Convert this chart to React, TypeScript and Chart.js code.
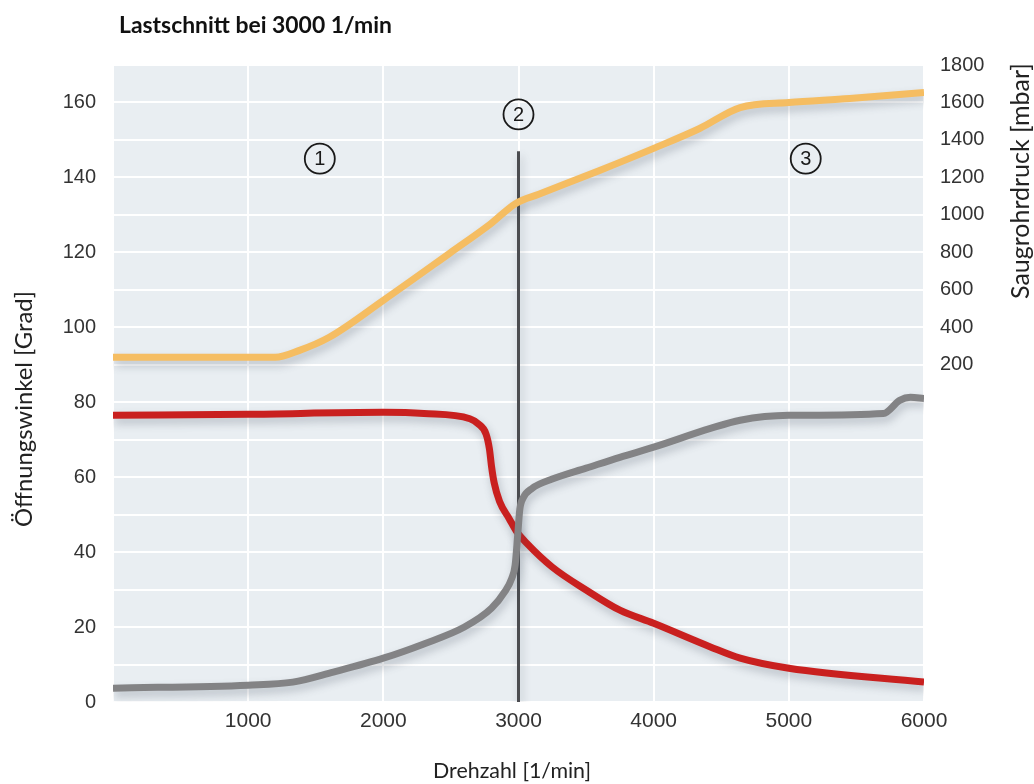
import React, { useEffect, useRef } from 'react';
import { Chart, registerables } from 'chart.js';

Chart.register(...registerables);

// ---- text ----
const TITLE = 'Lastschnitt bei 3000 1/min';
const X_TITLE = 'Drehzahl [1/min]';
const Y_LEFT_TITLE = 'Öffnungswinkel [Grad]';
const Y_RIGHT_TITLE = 'Saugrohrdruck [mbar]';

// ---- axes ----
const X_MIN = 0;
const X_MAX = 6000;
const X_STEP = 1000;
const Y_LEFT_MIN = 0;
const Y_LEFT_MAX = 170;
const Y_LEFT_GRID_STEP = 10;
const Y_LEFT_LABEL_STEP = 20;
const Y_RIGHT_MIN = -1600;
const Y_RIGHT_MAX = 1800;
const Y_RIGHT_STEP = 200;
const Y_RIGHT_FIRST_LABEL = 200;

// ---- series: Saugrohrdruck (orange, right axis, mbar) ----
const pressureRpm = [0, 1200, 1380, 1600, 2000, 2490, 2790, 2980, 3150, 3600, 4000, 4340, 4640, 5000, 5450, 6000];
const pressureMbar = [240, 240, 277, 347, 544, 795, 950, 1061, 1110, 1237, 1355, 1461, 1573, 1600, 1621, 1653];

// ---- series: red opening angle (left axis, Grad) ----
const redRpm = [0, 1000, 2000, 2300, 2640, 2700, 2760, 2785, 2800, 2820, 2860, 2930, 2990, 3060, 3250, 3500, 3750, 4000, 4420, 4640, 5000, 6000];
const redDeg = [76.5, 76.8, 77.3, 77, 75.6, 74.3, 71.5, 67.5, 63, 58.5, 53.5, 49, 45.3, 42.4, 36, 29.9, 24.5, 21, 14.7, 11.7, 9, 5.3];

// ---- series: grey opening angle (left axis, Grad) ----
const greyRpm = [0, 1000, 1330, 1630, 2000, 2300, 2600, 2800, 2900, 2950, 2975, 2995, 3010, 3035, 3100, 3250, 3500, 3750, 4000, 4420, 4640, 5000, 5700, 5820, 5900, 6000];
const greyDeg = [3.7, 4.5, 5.3, 8, 11.7, 15.5, 20, 25, 29.5, 33, 36.5, 45, 51.5, 54.5, 57, 59.5, 62.4, 65.3, 68, 73, 75.2, 76.5, 77, 80.5, 81.3, 81];

// ---- load cut marker at 3000 1/min ----
const cutRpm = [3000, 3000];
const cutDeg = [0, 147];

// ---- region markers ----
const markerLabels = ['1', '2', '3'];
const markerRpm = [1530, 3000, 5125];
const markerDeg = [145, 156.8, 145];

const toPoints = (xs: number[], ys: number[]) => xs.map((x, i) => ({ x, y: ys[i] }));

const TICK_FONT = { family: '"Liberation Sans", Arial, sans-serif', size: 20 };
const X_TICK_FONT = { family: '"Liberation Sans", Arial, sans-serif', size: 21 };
const TICK_COLOR = '#333333';
const LABEL_FONT = 'Lato, "Open Sans", sans-serif';

const drawFitted = (ctx: CanvasRenderingContext2D, text: string, weight: string, family: string, target: number, x: number, y: number) => {
  ctx.font = `${weight} 20px ${family}`;
  const w = ctx.measureText(text).width;
  const size = (20 * target) / w;
  ctx.font = `${weight} ${size.toFixed(2)}px ${family}`;
  ctx.fillText(text, x, y);
};

const decorPlugin = {
  id: 'decor',
  beforeDraw(chart: any) {
    const { ctx, chartArea } = chart;
    ctx.save();
    ctx.fillStyle = '#ffffff';
    ctx.fillRect(0, 0, chart.width, chart.height);
    ctx.fillStyle = '#e9eef2';
    ctx.fillRect(chartArea.left, chartArea.top, chartArea.right - chartArea.left, chartArea.bottom - chartArea.top);
    ctx.restore();
  },
  beforeDatasetsDraw(chart: any) {
    const { ctx } = chart;
    ctx.save();
    ctx.shadowColor = 'rgba(70, 80, 95, 0.3)';
    ctx.shadowBlur = 8;
    ctx.shadowOffsetX = 2;
    ctx.shadowOffsetY = 5;
  },
  afterDatasetsDraw(chart: any) {
    const { ctx, scales } = chart;
    ctx.restore();
    // region markers
    ctx.save();
    for (let i = 0; i < markerLabels.length; i++) {
      const px = scales.x.getPixelForValue(markerRpm[i]);
      const py = scales.y.getPixelForValue(markerDeg[i]);
      ctx.beginPath();
      ctx.arc(px, py, 15, 0, Math.PI * 2);
      ctx.lineWidth = 1.8;
      ctx.strokeStyle = '#1a1a1a';
      ctx.stroke();
      ctx.fillStyle = '#1a1a1a';
      ctx.font = '20px "Liberation Sans", Arial, sans-serif';
      ctx.textAlign = 'center';
      ctx.textBaseline = 'middle';
      ctx.fillText(markerLabels[i], px, py + 1);
    }
    ctx.restore();
  },
  afterDraw(chart: any) {
    const { ctx } = chart;
    ctx.save();
    ctx.fillStyle = '#111111';
    ctx.textAlign = 'left';
    ctx.textBaseline = 'middle';
    drawFitted(ctx, TITLE, 'bold', LABEL_FONT, 273, 119, 26);

    ctx.fillStyle = '#222222';
    ctx.textAlign = 'center';
    drawFitted(ctx, X_TITLE, 'normal', LABEL_FONT, 158, 512, 771);

    ctx.save();
    ctx.translate(24, 409);
    ctx.rotate(-Math.PI / 2);
    drawFitted(ctx, Y_LEFT_TITLE, 'normal', LABEL_FONT, 236, 0, 0);
    ctx.restore();

    ctx.save();
    ctx.translate(1021, 181);
    ctx.rotate(-Math.PI / 2);
    drawFitted(ctx, Y_RIGHT_TITLE, 'normal', LABEL_FONT, 236, 0, 0);
    ctx.restore();

    ctx.restore();
  },
};

export default function App() {
  const canvasRef = useRef<HTMLCanvasElement | null>(null);

  useEffect(() => {
    if (!canvasRef.current) return;
    const lineBase = {
      pointRadius: 0,
      pointHoverRadius: 0,
      fill: false,
      cubicInterpolationMode: 'monotone' as const,
      borderJoinStyle: 'round' as const,
      borderCapStyle: 'butt' as const,
    };
    const chart = new Chart(canvasRef.current, {
      type: 'line',
      data: {
        datasets: [
          {
            ...lineBase,
            label: 'Saugrohrdruck',
            data: toPoints(pressureRpm, pressureMbar),
            yAxisID: 'y1',
            borderColor: '#f5bd62',
            borderWidth: 7,
            order: 1,
          },
          {
            ...lineBase,
            label: 'Öffnungswinkel rot',
            data: toPoints(redRpm, redDeg),
            yAxisID: 'y',
            borderColor: '#c9201f',
            borderWidth: 7,
            order: 2,
          },
          {
            ...lineBase,
            label: 'Öffnungswinkel grau',
            data: toPoints(greyRpm, greyDeg),
            yAxisID: 'y',
            borderColor: '#838385',
            borderWidth: 7,
            order: 1,
          },
          {
            ...lineBase,
            cubicInterpolationMode: 'default' as const,
            tension: 0,
            label: 'Lastschnitt',
            data: toPoints(cutRpm, cutDeg),
            yAxisID: 'y',
            borderColor: '#4b4c50',
            borderWidth: 3,
            order: 10,
          },
        ],
      },
      options: {
        animation: false,
        responsive: false,
        maintainAspectRatio: false,
        events: [],
        layout: { padding: { left: 0, right: 0, top: 65, bottom: 0 } },
        plugins: {
          legend: { display: false },
          tooltip: { enabled: false },
          title: { display: false },
        },
        scales: {
          x: {
            type: 'linear',
            min: X_MIN,
            max: X_MAX,
            border: { display: false },
            grid: { color: '#ffffff', lineWidth: 2, drawTicks: false },
            ticks: {
              stepSize: X_STEP,
              padding: 7,
              color: TICK_COLOR,
              font: X_TICK_FONT,
              maxRotation: 0,
              callback: (v: any) => (Number(v) === 0 ? '' : String(v)),
            },
            afterFit: (s: any) => {
              s.height = 82;
            },
          },
          y: {
            type: 'linear',
            position: 'left',
            min: Y_LEFT_MIN,
            max: Y_LEFT_MAX,
            border: { display: false },
            grid: { color: '#ffffff', lineWidth: 2, drawTicks: false },
            ticks: {
              stepSize: Y_LEFT_GRID_STEP,
              padding: 17,
              color: TICK_COLOR,
              font: TICK_FONT,
              callback: (v: any) => (Number(v) % Y_LEFT_LABEL_STEP === 0 ? String(v) : ''),
            },
            afterFit: (s: any) => {
              s.width = 113;
            },
          },
          y1: {
            type: 'linear',
            position: 'right',
            min: Y_RIGHT_MIN,
            max: Y_RIGHT_MAX,
            border: { display: false },
            grid: { display: false, drawTicks: false },
            ticks: {
              stepSize: Y_RIGHT_STEP,
              padding: 16,
              color: TICK_COLOR,
              font: TICK_FONT,
              callback: (v: any) => (Number(v) >= Y_RIGHT_FIRST_LABEL ? String(v) : ''),
            },
            afterFit: (s: any) => {
              s.width = 110;
            },
          },
        },
      },
      plugins: [decorPlugin],
    });
    return () => chart.destroy();
  }, []);

  return (
    <div style={{ position: 'absolute', left: 0, top: 0, width: 1034, height: 784, background: '#ffffff' }}>
      <canvas ref={canvasRef} width={1034} height={784} style={{ width: 1034, height: 784, display: 'block' }} />
    </div>
  );
}
